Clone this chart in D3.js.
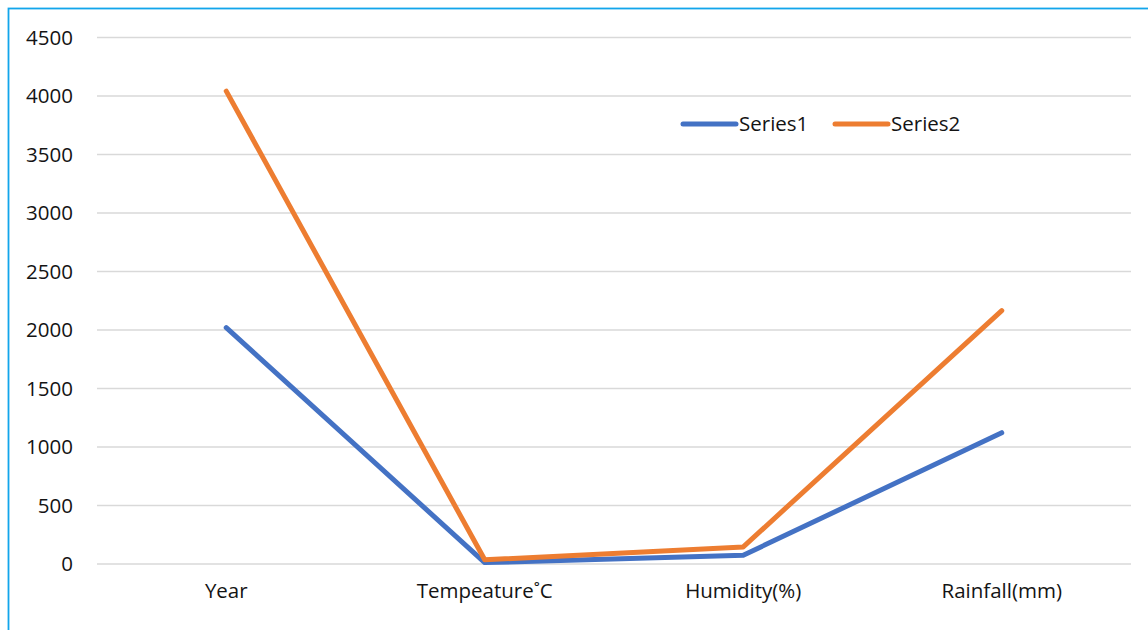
<!DOCTYPE html>
<html><head><meta charset="utf-8">
<script src="https://cdn.jsdelivr.net/npm/d3@7"></script>
<style>body{margin:0;background:#fff;}svg{display:block;font-family:"Open Sans",sans-serif;}</style>
</head><body>
<script>
const categories = ["Year", "Tempeature˚C", "Humidity(%)", "Rainfall(mm)"];
const series1 = [2020, 12, 75, 1122];
const series2 = [4042, 36, 146, 2166];
const seriesNames = ["Series1", "Series2"];
const yTicks = [0, 500, 1000, 1500, 2000, 2500, 3000, 3500, 4000, 4500];

(function () {
const W = 1148, H = 630;
const svg = d3.select("body").append("svg").attr("width", W).attr("height", H);
svg.append("rect").attr("width", W).attr("height", H).attr("fill", "#fff");
svg.append("rect").attr("x", 8.5).attr("y", 8.5).attr("width", W + 20).attr("height", H + 20)
  .attr("fill", "none").attr("stroke", "#12a5eb").attr("stroke-width", 1.8);

const pLeft = 97, pRight = 1131, pTop = 37.5, pBottom = 564;
const x = d3.scaleBand().domain(categories).range([pLeft, pRight]);
const y = d3.scaleLinear().domain([0, 4500]).range([pBottom, pTop]);

svg.append("g").selectAll("line").data(yTicks).join("line")
  .attr("x1", pLeft).attr("x2", pRight).attr("y1", d => y(d)).attr("y2", d => y(d))
  .attr("stroke", "#d9d9d9").attr("stroke-width", 1.3);

const yAxis = d3.axisLeft(y).tickValues(yTicks).tickSize(0).tickPadding(0).tickFormat(d3.format("d"));
const ya = svg.append("g").attr("transform", "translate(73,0)").call(yAxis);
ya.select(".domain").remove();
ya.selectAll("text").attr("font-size", 20.5).attr("fill", "#141414").attr("font-family", "Open Sans");

const xAxis = d3.axisBottom(x).tickSize(0).tickPadding(0);
const xa = svg.append("g").attr("transform", "translate(0,583)").call(xAxis);
xa.select(".domain").remove();
xa.selectAll("text").attr("font-size", 20.5).attr("fill", "#141414").attr("font-family", "Open Sans");

const colors = ["#4472C4", "#ED7D31"];
const line = d3.line().x((d, i) => x(categories[i]) + x.bandwidth() / 2).y(d => y(d));
[series1, series2].forEach((s, k) => {
  svg.append("path").datum(s).attr("d", line).attr("fill", "none")
    .attr("stroke", colors[k]).attr("stroke-width", 5)
    .attr("stroke-linecap", "round").attr("stroke-linejoin", "round");
});

const legX = [683, 835];
seriesNames.forEach((n, k) => {
  svg.append("line").attr("x1", legX[k]).attr("x2", legX[k] + 53).attr("y1", 124).attr("y2", 124)
    .attr("stroke", colors[k]).attr("stroke-width", 5).attr("stroke-linecap", "round");
  svg.append("text").attr("x", legX[k] + 56).attr("y", 124).attr("dy", "0.35em")
    .attr("font-size", 20.5).attr("fill", "#141414").text(n);
});
})();
</script>
</body></html>
